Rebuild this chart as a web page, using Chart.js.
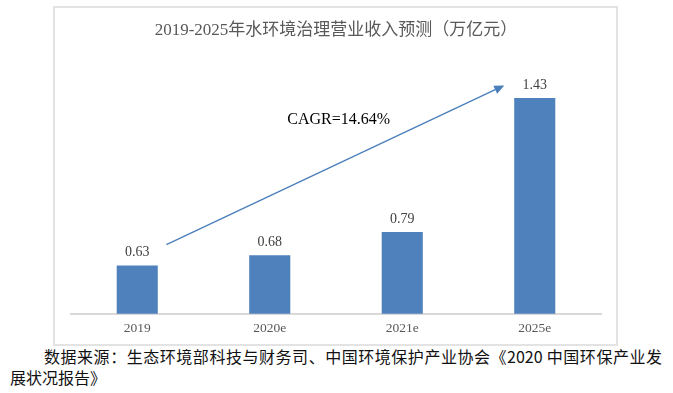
<!DOCTYPE html>
<html>
<head>
<meta charset="utf-8">
<script src="https://cdn.jsdelivr.net/npm/chart.js@4/dist/chart.umd.min.js"></script>
<style>
  html, body { margin:0; padding:0; background:#fff; }
  body { width:673px; height:393px; position:relative; overflow:hidden; }
  #box { position:absolute; left:53px; top:6px; width:561px; height:336px; border:2px solid #e3e3e3; }
  #c { display:block; }
  .src { position:absolute; font-family:"Noto Sans CJK SC", sans-serif; font-size:16px; color:#111; white-space:nowrap; line-height:20px; }
  #l1 { left:44px; top:346px; width:618px; text-align:justify; text-align-last:justify; }
  #l2 { left:10px; top:367px; }
</style>
</head>
<body>
<div id="box"><canvas id="c" width="561" height="336"></canvas></div>
<div class="src" id="l1">数据来源：生态环境部科技与财务司、中国环境保护产业协会《2020 中国环保产业发</div>
<div class="src" id="l2">展状况报告》</div>
<script>
const categories = ['2019', '2020e', '2021e', '2025e'];
const revenue = [0.63, 0.68, 0.79, 1.43];
const chartTitle = '2019-2025年水环境治理营业收入预测（万亿元）';
const cagrText = 'CAGR=14.64%';
// arrow endpoints in (category index, value) units
const arrowFrom = [0.22, 0.73];
const arrowTo = [2.77, 1.49];
const cagrAt = [1.52, 1.325];

const serif = "'Liberation Serif', 'Times New Roman', 'Noto Sans CJK SC', serif";

const overlay = {
  id: 'overlay',
  afterDatasetsDraw(chart) {
    const ctx = chart.ctx;
    const xs = chart.scales.x, ys = chart.scales.y;
    const step = xs.getPixelForValue(1) - xs.getPixelForValue(0);
    const px = v => xs.getPixelForValue(0) + v * step;
    // value labels
    const meta = chart.getDatasetMeta(0);
    ctx.save();
    ctx.font = "14px " + serif;
    ctx.fillStyle = '#404040';
    ctx.textAlign = 'center';
    ctx.textBaseline = 'bottom';
    meta.data.forEach((bar, i) => {
      ctx.fillText(revenue[i].toFixed(2), bar.x, bar.y - 6);
    });
    // arrow
    const x1 = px(arrowFrom[0]), y1 = ys.getPixelForValue(arrowFrom[1]);
    const x2 = px(arrowTo[0]), y2 = ys.getPixelForValue(arrowTo[1]);
    const ang = Math.atan2(y2 - y1, x2 - x1);
    const hl = 10, hw = 4.5;
    const bx = x2 - hl * Math.cos(ang), by = y2 - hl * Math.sin(ang);
    ctx.strokeStyle = '#4a7ebb';
    ctx.fillStyle = '#4a7ebb';
    ctx.lineWidth = 1.3;
    ctx.beginPath();
    ctx.moveTo(x1, y1);
    ctx.lineTo(bx, by);
    ctx.stroke();
    ctx.beginPath();
    ctx.moveTo(x2, y2);
    ctx.lineTo(bx + hw * Math.sin(ang), by - hw * Math.cos(ang));
    ctx.lineTo(bx - hw * Math.sin(ang), by + hw * Math.cos(ang));
    ctx.closePath();
    ctx.fill();
    // CAGR text
    ctx.font = "16px " + serif;
    ctx.fillStyle = '#000';
    ctx.textBaseline = 'middle';
    ctx.fillText(cagrText, px(cagrAt[0]), ys.getPixelForValue(cagrAt[1]));
    ctx.restore();
  }
};

new Chart(document.getElementById('c'), {
  type: 'bar',
  data: {
    labels: categories,
    datasets: [{
      data: revenue,
      backgroundColor: '#4f81bd',
      borderWidth: 0,
      barPercentage: 0.31,
      categoryPercentage: 1.0
    }]
  },
  options: {
    responsive: false,
    animation: false,
    devicePixelRatio: 1,
    layout: { padding: { left: 16, right: 15, top: 0, bottom: 0 } },
    plugins: {
      legend: { display: false },
      tooltip: { enabled: false },
      title: {
        display: true,
        text: chartTitle,
        color: '#595959',
        font: { family: serif, size: 17, weight: 'normal' },
        padding: { top: 12, bottom: 22 }
      }
    },
    scales: {
      x: {
        grid: { display: false, drawTicks: false },
        border: { display: true, color: '#d9d9d9', width: 2 },
        ticks: { color: '#595959', font: { family: serif, size: 13.5 }, padding: 7 }
      },
      y: {
        display: false,
        min: 0.4,
        max: 1.6
      }
    }
  },
  plugins: [overlay]
});
</script>
</body>
</html>
